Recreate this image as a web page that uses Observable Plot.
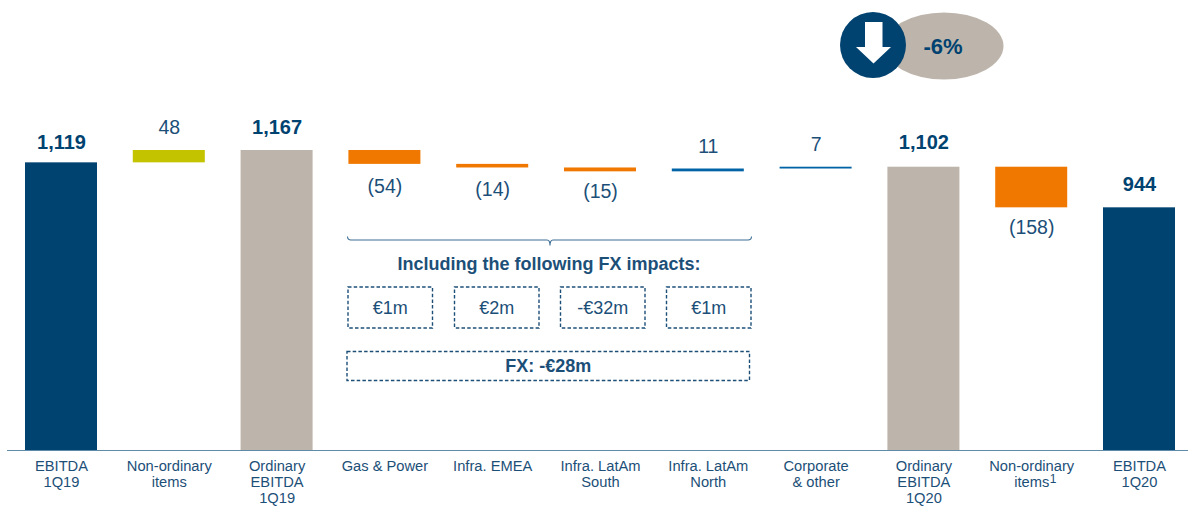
<!DOCTYPE html>
<html>
<head>
<meta charset="utf-8">
<script src="https://cdn.jsdelivr.net/npm/d3@7"></script>
<script src="https://cdn.jsdelivr.net/npm/@observablehq/plot@0.6"></script>
<style>html,body{margin:0;padding:0;background:#fff}svg{display:block}</style>
</head>
<body>
<div id="chart"></div>
<script>
const categories = ["EBITDA\n1Q19","Non-ordinary\nitems","Ordinary\nEBITDA\n1Q19","Gas & Power","Infra. EMEA","Infra. LatAm\nSouth","Infra. LatAm\nNorth","Corporate\n& other","Ordinary\nEBITDA\n1Q20","Non-ordinary\nitems","EBITDA\n1Q20"];
const barStarts = [0,1119,0,1167,1113,1099,1084,1095,0,1102,0];
const barEnds = [1119,1167,1167,1113,1099,1084,1095,1102,1102,944,944];
const valueLabels = ["1,119","48","1,167","(54)","(14)","(15)","11","7","1,102","(158)","944"];
const barKinds = ["total","up","sub","down","down","down","upBlue","upBlue","sub","down","total"];
const fxLabels = ["€1m","€2m","-€32m","€1m"];
const fxTotal = "FX: -€28m";
const fxHeading = "Including the following FX impacts:";
const changeLabel = "-6%";
const labelOffsets = [-20,-23,-23,22,22,20,-22,-22,-25,20,-23];

const NAVY = "#004270", TEXT = "#1c4f78", FONT = "Liberation Sans, Arial, sans-serif";
const kindColors = {total:NAVY, sub:"#bdb5ab", up:"#c4c300", down:"#f07800", upBlue:"#0063a6"};
const rows = categories.map((c,i)=>({i, y1:barStarts[i], y2:barEnds[i], label:valueLabels[i], kind:barKinds[i],
  top:Math.max(barStarts[i],barEnds[i]), low:Math.min(barStarts[i],barEnds[i]),
  bold:barKinds[i]==="total"||barKinds[i]==="sub", below:barKinds[i]==="down", dy:labelOffsets[i]}));

function decorations(){
  const g = d3.create("svg:g").attr("font-family",FONT).attr("text-anchor","middle");
  g.append("path").attr("fill","none").attr("stroke","#3f6f94").attr("stroke-width",1.1)
    .attr("d","M347.5,236.5Q347.5,240 351,240H547Q550,240 550,245.5Q550,240 553,240H748Q751.5,240 751.5,236.5");
  g.append("ellipse").attr("cx",944).attr("cy",46).attr("rx",59.5).attr("ry",33.5).attr("fill","#bdb5ab");
  g.append("circle").attr("cx",873).attr("cy",45).attr("r",33).attr("fill",NAVY);
  g.append("path").attr("fill","#fff").attr("d","M865,22H882.5V47H891L873.5,63.5L856,47H865Z");
  const txt = (x,y,label,size,weight,fill)=>g.append("text").attr("x",x).attr("y",y).attr("dy","0.34em")
    .attr("font-size",size).attr("font-weight",weight||"normal").attr("fill",fill||TEXT).text(label);
  const box = (x1,x2,y1,y2,label,size,weight)=>{
    g.append("rect").attr("x",x1).attr("y",y1).attr("width",x2-x1).attr("height",y2-y1)
      .attr("fill","none").attr("stroke",TEXT).attr("stroke-width",1.4).attr("stroke-dasharray","3.5,2.2");
    txt((x1+x2)/2,(y1+y2)/2,label,size,weight);
  };
  [[348,432.5],[454.5,539],[560.5,645],[666.5,751]].forEach(([a,b],i)=>box(a,b,287,328,fxLabels[i],18));
  box(347,749.5,351.5,380.5,fxTotal,18,"bold");
  txt(549,264,fxHeading,18,"bold");
  txt(943,47,changeLabel,22,"bold",NAVY);
  txt(1053,479,"1",12);
  return g.node();
}

const plot = Plot.plot({
  width:1188, height:506,
  marginLeft:0, marginRight:0, marginTop:0, marginBottom:56,
  style:{fontFamily:FONT, background:"#fff"},
  x:{type:"band", domain:d3.range(categories.length), range:[7.1,1192.9], paddingInner:0.332, paddingOuter:0.166, align:0.5, round:false, label:null},
  y:{domain:[0,1750.5], range:[450,0], axis:null},
  marks:[
    Plot.barY(rows,{x:"i",y1:"y1",y2:"y2",fill:d=>kindColors[d.kind]}),
    Plot.ruleY([0],{stroke:"#5f8aa8",strokeWidth:1.2,insetLeft:7}),
    Plot.axisX({tickSize:0,tickPadding:9,fontSize:14.7,lineHeight:1.1,fill:TEXT,label:null,tickFormat:i=>categories[i]}),
    rows.map(d=>Plot.text([d],{x:"i",y:d.below?"low":"top",text:"label",dy:d.dy,fontSize:d.bold?20:19.5,fontWeight:d.bold?"bold":"normal",fill:d.bold?NAVY:TEXT})),
    decorations
  ]
});
document.getElementById("chart").appendChild(plot);
</script>
</body>
</html>
